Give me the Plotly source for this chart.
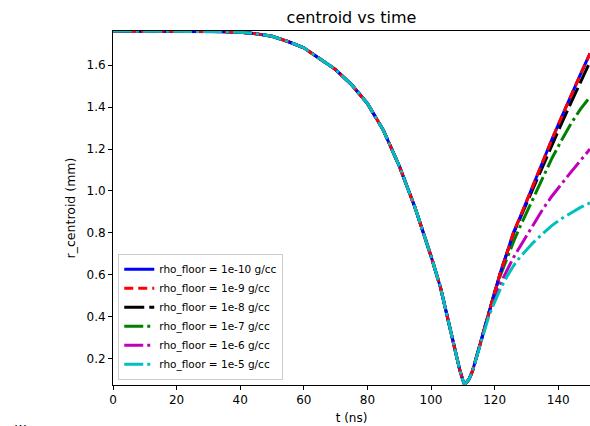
import plotly.graph_objects as go

t_ns = [0, 10, 20, 30, 35, 40, 45, 50, 55, 60, 65, 70, 75, 80, 85, 90, 95, 100, 103, 106,
        108, 109, 110, 110.5, 111, 112, 113, 114, 115, 116, 117, 118, 119, 120, 122, 124,
        126, 128, 130, 132, 135, 138, 141, 144, 147, 150]

r_common = [1.762, 1.762, 1.762, 1.761, 1.759, 1.756, 1.749, 1.737, 1.712, 1.682, 1.632,
            1.578, 1.507, 1.417, 1.29, 1.12, 0.92, 0.69, 0.54, 0.345, 0.21, 0.15, 0.1, 0.08,
            0.085, 0.105, 0.14, 0.19, 0.245, 0.3]

r_1e10 = r_common + [0.355, 0.41, 0.465, 0.52, 0.62, 0.71, 0.805, 0.875, 0.95, 1.025, 1.135,
                     1.245, 1.35, 1.455, 1.555, 1.655]
r_1e9 = r_common + [0.355, 0.41, 0.465, 0.52, 0.62, 0.71, 0.805, 0.875, 0.95, 1.025, 1.135,
                    1.245, 1.35, 1.455, 1.555, 1.655]
r_1e8 = r_common + [0.355, 0.41, 0.465, 0.52, 0.62, 0.71, 0.8, 0.87, 0.94, 1.01, 1.115,
                    1.22, 1.32, 1.42, 1.52, 1.615]
r_1e7 = r_common + [0.355, 0.41, 0.465, 0.52, 0.605, 0.685, 0.76, 0.83, 0.895, 0.955, 1.06,
                    1.155, 1.24, 1.32, 1.39, 1.448]
r_1e6 = r_common + [0.355, 0.41, 0.46, 0.5, 0.565, 0.625, 0.685, 0.735, 0.785, 0.835, 0.91,
                    0.975, 1.035, 1.09, 1.145, 1.2]
r_1e5 = r_common + [0.35, 0.395, 0.435, 0.47, 0.54, 0.595, 0.645, 0.685, 0.72, 0.752, 0.795,
                    0.835, 0.868, 0.897, 0.922, 0.943]

labels = ["rho_floor = 1e-10 g/cc", "rho_floor = 1e-9 g/cc", "rho_floor = 1e-8 g/cc",
          "rho_floor = 1e-7 g/cc", "rho_floor = 1e-6 g/cc", "rho_floor = 1e-5 g/cc"]
series = [r_1e10, r_1e9, r_1e8, r_1e7, r_1e6, r_1e5]
colors = ["#0000ff", "#ff0000", "#000000", "#008000", "#bf00bf", "#00bfbf"]
dashes = ["solid", "9px,5px", "20px,5px", "19px,4px,3px,4px", "19px,4px,3px,4px", "19px,4px,3px,4px"]
draw_order = [2, 3, 4, 0, 1, 5]

x_ticks = [0, 20, 40, 60, 80, 100, 120, 140]
y_ticks = [0.2, 0.4, 0.6, 0.8, 1.0, 1.2, 1.4, 1.6]

fig = go.Figure()
for i in draw_order:
    fig.add_trace(go.Scatter(x=t_ns, y=series[i], mode="lines", name=labels[i],
                             legendrank=i + 1,
                             line=dict(color=colors[i], width=3, dash=dashes[i])))

W, H = 590, 426
ml, mr, mt, mb = 113, 0, 31, 41

axis_common = dict(showgrid=False, zeroline=False, showline=True, linecolor="black",
                   linewidth=1, mirror=True, ticks="outside", ticklen=4, tickwidth=1,
                   tickcolor="black", tickfont=dict(family="DejaVu Sans", size=12, color="black"))

fig.update_layout(
    width=W, height=H,
    margin=dict(l=ml, r=mr, t=mt, b=mb),
    paper_bgcolor="white", plot_bgcolor="white",
    font=dict(family="DejaVu Sans", color="black"),
    title=dict(text="centroid vs time", x=0.5, xref="paper", xanchor="center",
               y=1 - 17 / H, yref="container", yanchor="middle",
               font=dict(family="DejaVu Sans", size=16, color="black")),
    xaxis=dict(range=[0, 150], tickvals=x_ticks, ticktext=[str(v) for v in x_ticks],
               title=dict(text="t (ns)", font=dict(size=12), standoff=7), **axis_common),
    yaxis=dict(range=[0.076, 1.762], tickvals=y_ticks, ticktext=["%.1f" % v for v in y_ticks],
               title=dict(text="r_centroid (mm)", font=dict(size=12.5), standoff=8), **axis_common),
    legend=dict(x=0.011, y=0.015, xanchor="left", yanchor="bottom",
                bgcolor="rgba(255,255,255,0.85)", bordercolor="#cccccc", borderwidth=1,
                font=dict(family="DejaVu Sans", size=10.5, color="black"),
                tracegroupgap=0, itemwidth=30, traceorder="normal"),
    showlegend=True,
)

fig.add_annotation(text="(i)", xref="paper", yref="paper", x=-0.216, y=-0.099,
                   xanchor="left", yanchor="top", showarrow=False,
                   font=dict(family="DejaVu Sans", size=16, color="black"))

fig.write_html("out.html",
               config={"displayModeBar": False},
               post_script="document.body.style.margin='0';"
                           "document.body.style.overflow='hidden';")
